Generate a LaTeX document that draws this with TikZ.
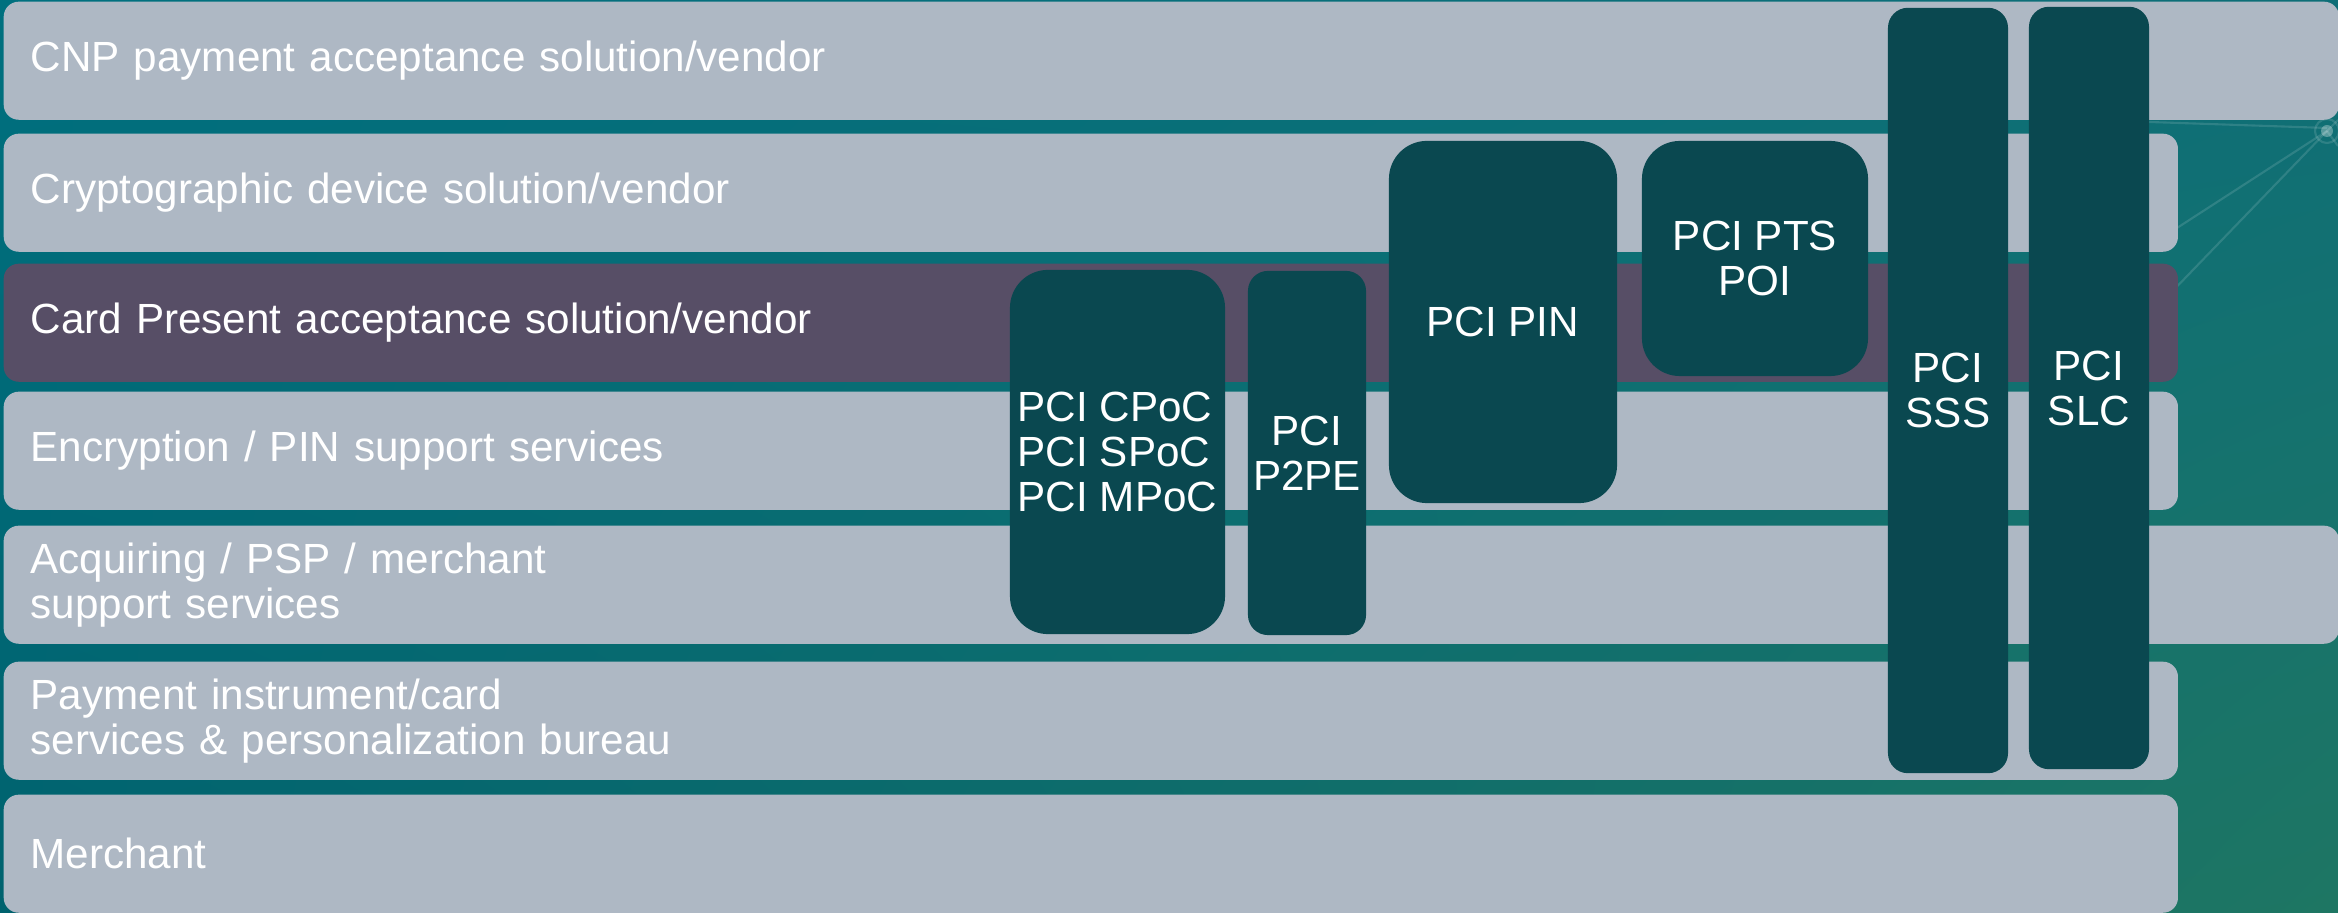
\documentclass[tikz,border=0pt]{standalone}
\usepackage{fontspec}
\setmainfont{Liberation Sans}
\usetikzlibrary{shadings}
\definecolor{bandgrey}{HTML}{AEB8C4}
\definecolor{cpviolet}{HTML}{574E66}
\definecolor{pcidark}{HTML}{0A4850}
\definecolor{bgtl}{HTML}{00707F}
\definecolor{bgtr}{HTML}{0E6E77}
\definecolor{bgbl}{HTML}{00626E}
\definecolor{bgbr}{HTML}{1E7663}
\begin{document}
\begin{tikzpicture}[x=0.01cm,y=-0.01cm]
\tikzstyle{every node}+=[inner sep=0pt,text=white,font=\fontsize{12}{12.8}\selectfont]
\tikzstyle{band}=[fill=bandgrey,rounded corners=0.15cm,anchor=north west,minimum height=1.18cm,inner xsep=0.27cm,align=left,text width=21.19cm]
\tikzstyle{wideband}=[band,text width=22.80cm]
\tikzstyle{pci}=[fill=pcidark,rounded corners=0.38cm,align=center]
\tikzstyle{thinpci}=[pci,rounded corners=0.2cm]
\tikzstyle{net}=[white,opacity=0.13,line width=0.6pt]
\useasboundingbox (0,0) rectangle (2338,913);
% background
\shade [upper left=bgtl,upper right=bgtr,lower left=bgbl,lower right=bgbr] (0,0) rectangle (2338,913);
\draw [net] (2327,131) -- (1880,420);
\draw [net] (2327,131) -- (2000,470);
\draw [net] (2327,128) -- (2120,121);
\draw [net] (2327,131) -- (2338,146);
\draw [net] (2327,131) -- (2338,120);
\draw [net] (2327,131) circle (12);
\fill [white,opacity=0.3] (2327,131) circle (6);
% layers
\node [wideband] (cnp) at (3,1) {CNP payment acceptance solution/vendor};
\node [band] (crypto) at (3,133) {Cryptographic device solution/vendor};
\node [band,fill=cpviolet] (cardpresent) at (3,263) {Card Present acceptance solution/vendor};
\node [band] (encrypt) at (3,391) {Encryption / PIN support services};
\node [wideband] (acquiring) at (3,525) {Acquiring / PSP / merchant\\support services};
\node [band] (payinst) at (3,661) {Payment instrument/card\\services \& personalization bureau};
\node [band] (merchant) at (3,794) {Merchant};
% standards
\node [pci,align=left,minimum width=2.15cm,minimum height=3.64cm] (cpoc) at (1117.5,452) {PCI CPoC\\PCI SPoC\\PCI MPoC};
\node [thinpci,minimum width=1.18cm,minimum height=3.64cm] (ptwope) at (1307,453) {PCI\\P2PE};
\node [pci,minimum width=2.28cm,minimum height=3.62cm] (pin) at (1503,322) {PCI PIN};
\node [pci,minimum width=2.26cm,minimum height=2.35cm] (ptspoi) at (1755,258.5) {PCI PTS\\POI};
\node [thinpci,minimum width=1.2cm,minimum height=7.65cm] (sss) at (1948,390.5) {PCI\\SSS};
\node [thinpci,minimum width=1.2cm,minimum height=7.62cm] (slc) at (2089,388) {PCI\\SLC};
\end{tikzpicture}
\end{document}
